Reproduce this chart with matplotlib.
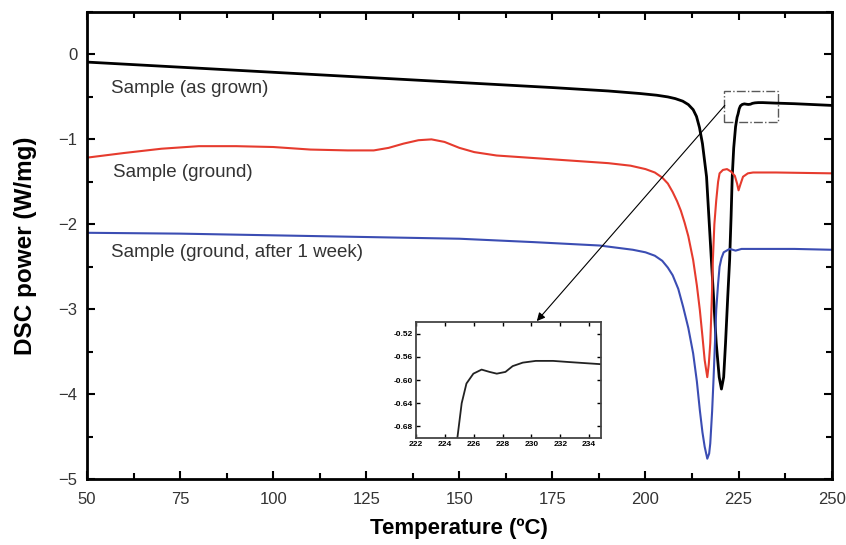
import matplotlib
matplotlib.use('Agg')
import matplotlib.pyplot as plt
from matplotlib.patches import Rectangle
from matplotlib.ticker import MultipleLocator

# DSC curves (temperature in C, power in W/mg)
temp_grown = [50, 75, 100, 125, 150, 175, 190, 198.5, 203, 206, 208, 210, 211.5, 212.8,
              213.7, 214.5, 215.3, 216.4, 217.7, 219.0, 219.8, 220.4, 221.0, 221.5, 222.1,
              222.6, 223.0, 223.3, 223.7, 224.2, 224.6, 224.87, 225.17, 225.5, 225.98,
              226.55, 227.1, 227.6, 228.2, 228.7, 229.4, 230.3, 231.5, 232.6, 233.8, 235,
              240, 245, 250]
dsc_grown = [-0.09, -0.15, -0.21, -0.27, -0.33, -0.39, -0.43, -0.46, -0.48, -0.50, -0.52,
             -0.55, -0.59, -0.65, -0.73, -0.86, -1.05, -1.44, -2.42, -3.40, -3.80, -3.94,
             -3.80, -3.40, -2.85, -2.42, -1.90, -1.44, -1.10, -0.85, -0.74, -0.70, -0.64,
             -0.606, -0.589, -0.582, -0.586, -0.589, -0.586, -0.576, -0.570, -0.567,
             -0.567, -0.569, -0.571, -0.573, -0.58, -0.59, -0.60]

temp_ground = [50, 60, 70, 80, 90, 100, 110, 120, 127, 131, 135, 139, 142.5, 146, 150, 154,
               160, 170, 180, 190, 196, 200, 202.5, 204.5, 206, 207.3, 208.5, 209.5, 210.5,
               211.5, 212.8, 213.8, 214.6, 215.3, 215.9, 216.6, 217.0, 217.4, 217.8, 218.1,
               218.5, 219.0, 219.5, 219.9, 220.8, 221.9, 223.0, 224.0, 224.6, 225.0, 225.5,
               226.2, 227.5, 228.9, 235, 250]
dsc_ground = [-1.215, -1.16, -1.11, -1.08, -1.08, -1.09, -1.12, -1.13, -1.13, -1.10, -1.05,
              -1.01, -1.00, -1.03, -1.10, -1.15, -1.19, -1.22, -1.25, -1.28, -1.31, -1.35,
              -1.39, -1.45, -1.52, -1.62, -1.73, -1.84, -1.98, -2.14, -2.42, -2.72, -3.01,
              -3.32, -3.60, -3.80, -3.65, -3.40, -2.90, -2.42, -2.00, -1.72, -1.50, -1.40,
              -1.36, -1.35, -1.38, -1.43, -1.52, -1.60, -1.53, -1.44, -1.40, -1.39, -1.39,
              -1.40]

temp_week = [50, 75, 100, 125, 150, 170, 187.7, 196.6, 200, 202.5, 204.5, 206, 207.3, 208.8,
             210.1, 211.5, 212.8, 213.8, 214.6, 215.3, 215.9, 216.6, 217.1, 217.4, 217.9,
             218.3, 218.7, 219.0, 219.5, 219.9, 220.4, 221.0, 222.6, 224.2, 225.8, 230,
             240, 250]
dsc_week = [-2.10, -2.11, -2.13, -2.15, -2.17, -2.21, -2.25, -2.30, -2.33, -2.37, -2.43,
            -2.51, -2.60, -2.76, -2.97, -3.22, -3.52, -3.85, -4.19, -4.45, -4.62, -4.76,
            -4.70, -4.58, -4.20, -3.80, -3.35, -3.01, -2.70, -2.50, -2.40, -2.33, -2.29,
            -2.31, -2.29, -2.29, -2.29, -2.30]

labels = ['Sample (as grown)', 'Sample (ground)', 'Sample (ground, after 1 week)']
label_pos = [(56.5, -0.40), (57, -1.39), (56.5, -2.33)]

inset_xticks = [222, 224, 226, 228, 230, 232, 234]
inset_yticks = [-0.52, -0.56, -0.60, -0.64, -0.68]

plt.rcParams['font.family'] = ['Liberation Sans', 'DejaVu Sans']

fig = plt.figure(figsize=(8.46, 5.45), dpi=100)
ax = fig.add_axes([0.103, 0.121, 0.880, 0.857])

ax.plot(temp_grown, dsc_grown, color='black', lw=2.0)
ax.plot(temp_ground, dsc_ground, color='#e63b2e', lw=1.5)
ax.plot(temp_week, dsc_week, color='#3b4db3', lw=1.5)

for txt, (x, y) in zip(labels, label_pos):
    ax.text(x, y, txt, fontsize=13.5, color='#333333', ha='left', va='center')

ax.set_xlim(50, 250)
ax.set_ylim(-5, 0.5)
ax.xaxis.set_major_locator(MultipleLocator(25))
ax.xaxis.set_minor_locator(MultipleLocator(12.5))
ax.yaxis.set_major_locator(MultipleLocator(1))
ax.yaxis.set_minor_locator(MultipleLocator(0.5))
ax.tick_params(which='both', direction='in', top=True, right=True, width=1.5)
ax.tick_params(which='major', length=6, labelsize=12, labelcolor='#333333')
ax.tick_params(which='minor', length=4)
ax.tick_params(axis='x', pad=9)
ax.tick_params(axis='y', pad=7)
for sp in ax.spines.values():
    sp.set_linewidth(2)
ax.set_yticks([0, -1, -2, -3, -4, -5])
ax.set_xlabel('Temperature (ºC)', fontsize=16, fontweight='bold', labelpad=8)
ax.set_ylabel('DSC power (W/mg)', fontsize=17.5, fontweight='bold', labelpad=15)

# zoom box and arrow to the inset
ax.add_patch(Rectangle((221, -0.80), 14.5, 0.37, fill=False, ls='-.', lw=1, ec='0.35'))
ax.annotate('', xy=(170.8, -3.14), xytext=(221.3, -0.60),
            arrowprops=dict(arrowstyle='-|>', lw=0.8, color='black', mutation_scale=12,
                            shrinkA=0, shrinkB=0))

axin = ax.inset_axes([0.4416, 0.0878, 0.2483, 0.2484])
axin.plot(temp_grown, dsc_grown, color='#222222', lw=1.3)
axin.set_xlim(222, 234.8)
axin.set_ylim(-0.70, -0.50)
axin.set_xticks(inset_xticks)
axin.set_xticklabels([str(v) for v in inset_xticks])
axin.set_yticks(inset_yticks)
axin.set_yticklabels(['%.2f' % v for v in inset_yticks])
axin.tick_params(direction='in', top=True, right=True, length=3, width=1,
                 labelsize=6, pad=2)
for lab in axin.get_xticklabels() + axin.get_yticklabels():
    lab.set_fontweight('bold')
for sp in axin.spines.values():
    sp.set_linewidth(1.3)
    sp.set_color('#444444')

plt.savefig('out.png', dpi=100)
